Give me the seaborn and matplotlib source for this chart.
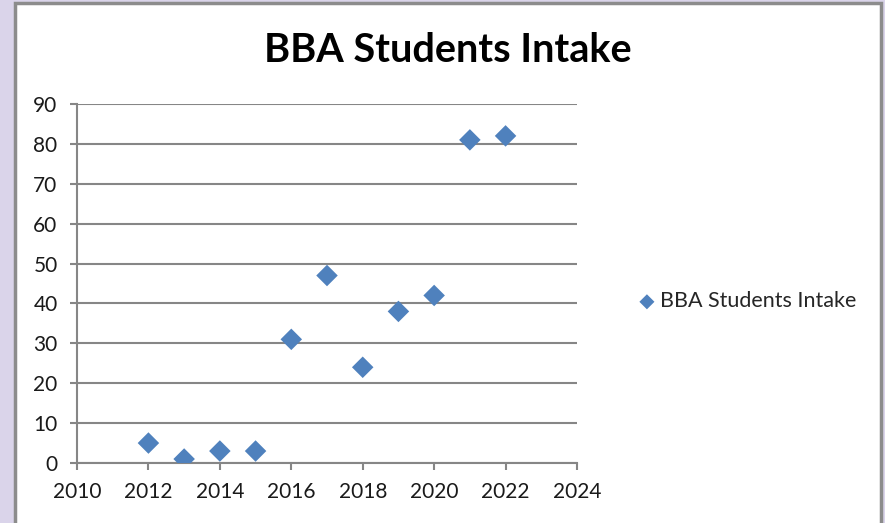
import pandas as pd
import seaborn as sns
import matplotlib.pyplot as plt
from matplotlib.patches import Rectangle

years = [2012, 2013, 2014, 2015, 2016, 2017, 2018, 2019, 2020, 2021, 2022]
intake = [5, 1, 3, 3, 31, 47, 24, 38, 42, 81, 82]
x_ticks = [2010, 2012, 2014, 2016, 2018, 2020, 2022, 2024]
y_ticks = [0, 10, 20, 30, 40, 50, 60, 70, 80, 90]

df = pd.DataFrame({"Year": years, "BBA Students Intake": intake})

sns.set_style("white")
plt.rcParams["font.family"] = ["Lato", "DejaVu Sans"]

fig = plt.figure(figsize=(8.85, 5.23), dpi=100)
fig.patch.set_facecolor("#DAD4EA")
# white chart area with grey frame
fig.patches.append(Rectangle((15 / 885, -0.01), 866 / 885, 1 - 3 / 523 + 0.01,
                             transform=fig.transFigure, facecolor="white",
                             edgecolor="#8C8C8C", linewidth=2.5, zorder=0))

ax = fig.add_axes([77 / 885, 60 / 523, 500 / 885, 359 / 523])
ax.set_zorder(2)
ax.set_facecolor("none")
grey = "#868686"

sns.scatterplot(data=df, x="Year", y="BBA Students Intake", marker="D", s=120,
                color="#4F81BD", edgecolor="none", ax=ax, zorder=3,
                label="BBA Students Intake")

ax.set_xlim(2010, 2024)
ax.set_ylim(0, 90)
ax.set_xticks(x_ticks)
ax.set_yticks(y_ticks)
ax.yaxis.grid(True, color=grey, linewidth=1.5)
ax.set_xlabel("")
ax.set_ylabel("")
for side in ["top", "right"]:
    ax.spines[side].set_visible(False)
for side in ["left", "bottom"]:
    ax.spines[side].set_color(grey)
    ax.spines[side].set_linewidth(1.5)
ax.tick_params(axis="both", which="major", direction="out", length=5, width=1.5,
               color=grey, labelsize=15, labelcolor="#1a1a1a", pad=9,
               left=True, bottom=True)

fig.text(448 / 885, 1 - 50 / 523, "BBA Students Intake", ha="center", va="center",
         fontsize=28.5, fontweight="bold", color="black", zorder=3)

ax.legend(loc="center left", bbox_to_anchor=(1.114, 0.45), frameon=False,
          fontsize=15.5, handletextpad=0.0, markerscale=0.7, handlelength=1.2,
          borderaxespad=0, borderpad=0)

fig.savefig("out.png", dpi=100)
